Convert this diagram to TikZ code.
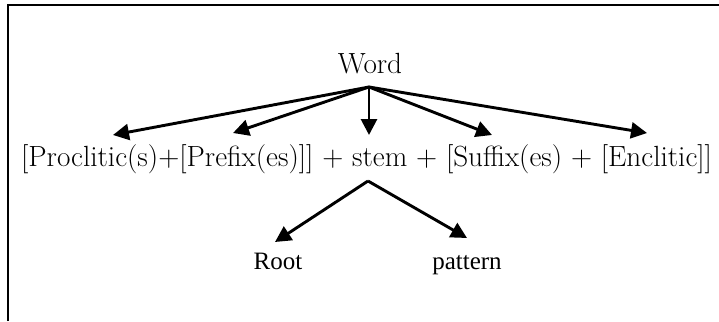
\documentclass[tikz,border=0pt]{standalone}
\usepackage{fontspec}
\newfontfamily\timesf{Liberation Serif}
\usetikzlibrary{arrows.meta}
\begin{document}
\begin{tikzpicture}[x=1pt,y=-1pt,
  lbl/.style={inner sep=0pt,font=\fontsize{29.2}{32}\selectfont},
  tlbl/.style={inner sep=0pt,font=\timesf\fontsize{25}{28}\selectfont},
  arr/.style={line width=2.9pt,-{Triangle[length=16pt,width=16pt]}},
  frame/.style={line width=2pt}]
\useasboundingbox (0,0) rectangle (719,321);
\draw[frame] (8,321) -- (8,5.5) -- (719,5.5);
\node[lbl,anchor=base] (word) at (370,73) {Word};
\node[lbl,anchor=base] (mid) at (366.5,166) {[Proclitic(s)+[Prefix(es)]] + stem + [Suffix(es) + [Enclitic]]};
\node[tlbl,anchor=base] (root) at (278,269) {Root};
\node[tlbl,anchor=base] (pat) at (467,269) {pattern};
\coordinate (w0) at (369,87);
\coordinate (t1) at (113,135);
\coordinate (t2) at (233,133);
\coordinate (t3) at (369,135);
\coordinate (t4) at (492,135);
\coordinate (t5) at (647,133);
\coordinate (s0) at (368,181);
\coordinate (r1) at (275,242);
\coordinate (p1) at (467,238);
\foreach \t in {t1,t2,t3,t4,t5} \draw[arr] (w0) -- (\t);
\draw[arr] (s0) -- (r1);
\draw[arr] (s0) -- (p1);
\end{tikzpicture}
\end{document}
